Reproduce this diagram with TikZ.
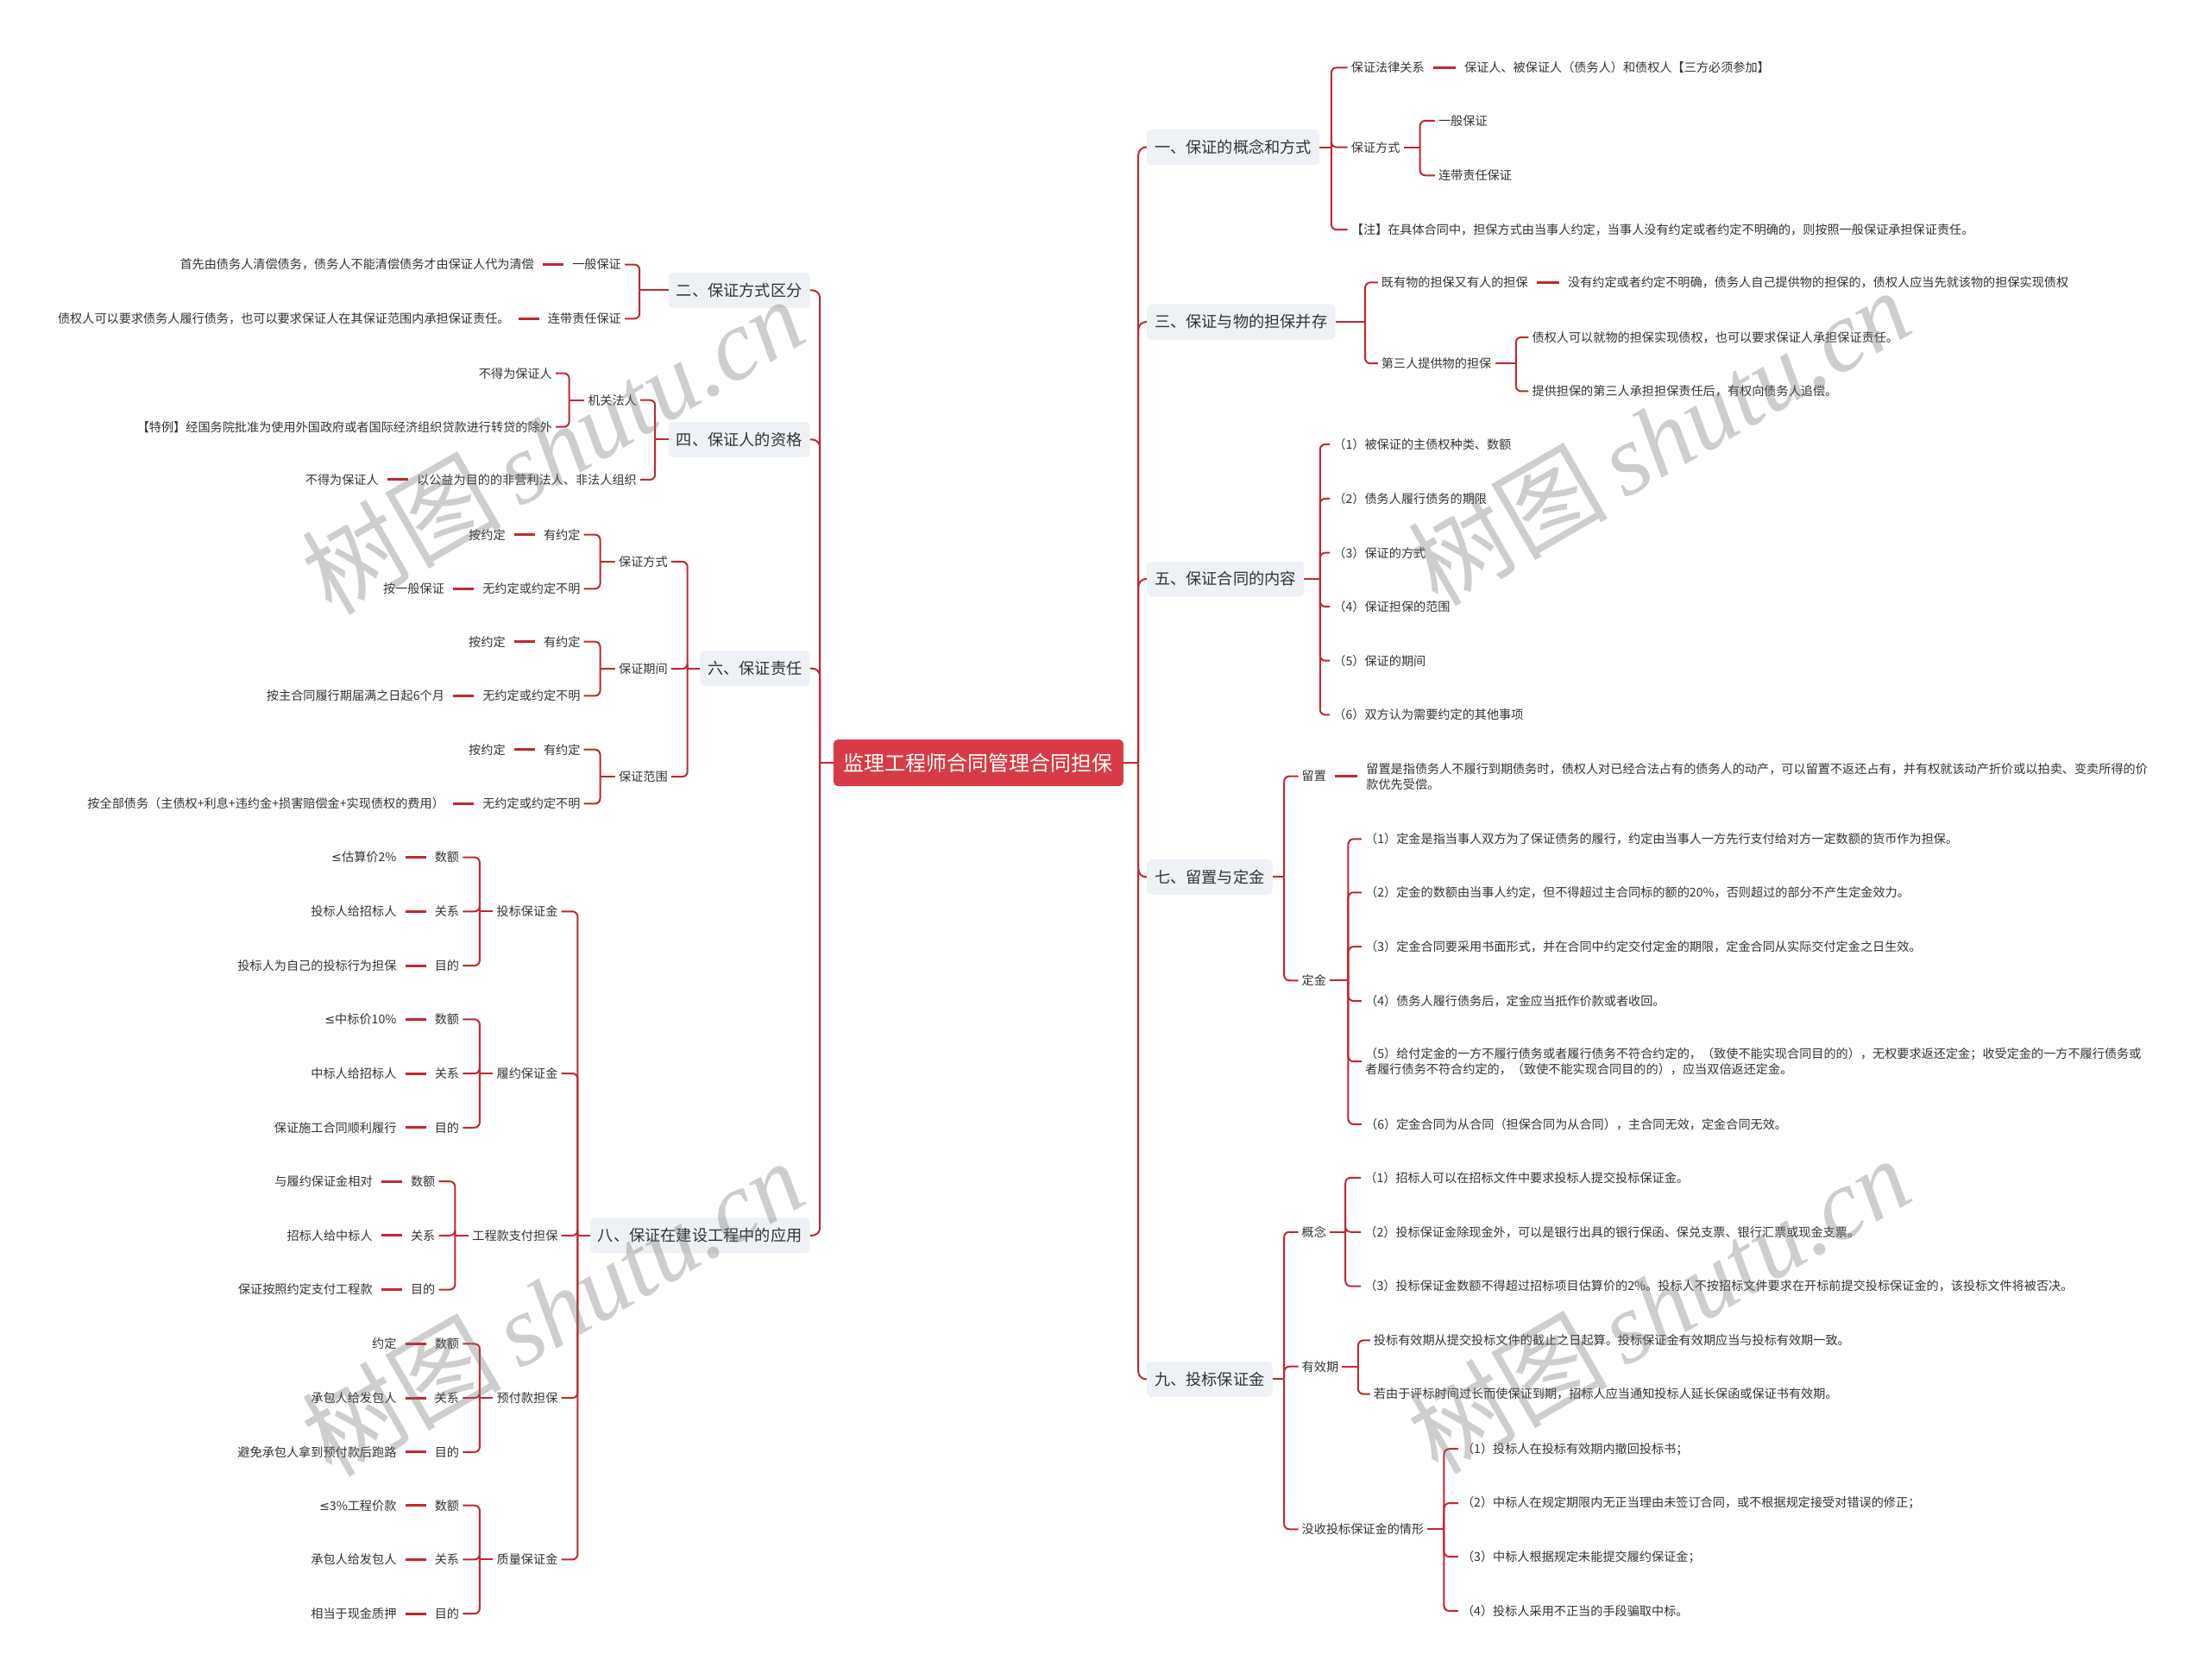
\documentclass[tikz,border=0pt]{standalone}
\usepackage{fontspec}
\setmainfont{Noto Sans CJK SC}
\newfontfamily\markserif{Liberation Serif}
\newfontfamily\mmsym{DejaVu Sans}
\usepackage{xcolor}
\usepackage{tikz}
\usetikzlibrary{positioning}
\definecolor{mmred}{HTML}{D83B45}
\definecolor{mmline}{HTML}{C0282F}
\definecolor{mmtopic}{HTML}{EEF1F5}
\definecolor{mmink}{HTML}{333333}
\newcommand\mmroot{\fontsize{24}{29}\selectfont}
\newcommand\mmtopicf{\fontsize{18.2}{22}\selectfont}
\newcommand\mmleaf{\fontsize{14.15}{18}\selectfont}
\newcommand\mmle{{\mmsym ≤}}
\tikzset{
  rootbox/.style={rectangle,rounded corners=5pt,fill=mmred,text=white,
                  font=\mmroot,minimum height=54pt,inner xsep=12pt},
  topic/.style={rectangle,rounded corners=5pt,fill=mmtopic,text=mmink,
                font=\mmtopicf,minimum height=41pt,inner xsep=9pt},
  leaf/.style={font=\mmleaf,text=mmink,inner xsep=4pt,inner ysep=2pt},
  link/.style={draw=mmline,line width=2pt,rounded corners=6pt},
  trunk/.style={link,rounded corners=9pt},
  tie/.style={draw=mmline,line width=3pt,shorten <=6pt,shorten >=6pt},
  stamp/.style={rotate=30,text=black!55,text opacity=0.35,
                font=\fontsize{116}{120}\selectfont},
}
\begin{document}
\begin{tikzpicture}[x=1.6327pt,y=-1.6327pt]
\fill[white] (0,0) rectangle (1568,1192);
\useasboundingbox (0,0) rectangle (1568,1192);

% centre
\node[rootbox] (root) at (694.5,541.5) {监理工程师合同管理合同担保};
\coordinate (rj) at (808,541.5);
\coordinate (lj) at (582,541.5);
\draw[link] (root.east) -- (rj);
\draw[link] (root.west) -- (lj);

% main topics
\node[topic,anchor=west] (t1) at (814,104.5) {一、保证的概念和方式};
\node[topic,anchor=west] (t3) at (814,228.5) {三、保证与物的担保并存};
\node[topic,anchor=west] (t5) at (814,411) {五、保证合同的内容};
\node[topic,anchor=west] (t7) at (814,622.5) {七、留置与定金};
\node[topic,anchor=west] (t9) at (814,979) {九、投标保证金};
\foreach \t in {t1,t3,t5,t7,t9} \draw[trunk] (rj) |- (\t.west);
\node[topic,anchor=east] (t2) at (575,206) {二、保证方式区分};
\node[topic,anchor=east] (t4) at (575,312) {四、保证人的资格};
\node[topic,anchor=east] (t6) at (575,474.5) {六、保证责任};
\node[topic,anchor=east] (t8) at (575,877) {八、保证在建设工程中的应用};
\foreach \t in {t2,t4,t6,t8} \draw[trunk] (lj) |- (\t.east);

% 一
\node[leaf,anchor=west] (t1a) at (956.5,48) {保证法律关系};
\node[leaf,right=38pt of t1a] (t1a1) {保证人、被保证人（债务人）和债权人【三方必须参加】};
\node[leaf,anchor=west] (t1b) at (956.5,104.5) {保证方式};
\node[leaf,anchor=west] (t1b1) at (1018.5,85.7) {一般保证};
\node[leaf,anchor=west] (t1b2) at (1018.5,124.5) {连带责任保证};
\node[leaf,anchor=west] (t1c) at (956.5,163) {【注】在具体合同中，担保方式由当事人约定，当事人没有约定或者约定不明确的，则按照一般保证承担保证责任。};
\coordinate (b1) at (945,104.5);
\coordinate (b1b) at (1008,104.5);
\draw[link] (t1.east) -- (b1);
\foreach \c in {t1a,t1b,t1c} \draw[link] (b1) |- (\c.west);
\draw[link] (t1b.east) -- (b1b);
\foreach \c in {t1b1,t1b2} \draw[link] (b1b) |- (\c.west);
\draw[tie] (t1a.east) -- (t1a1.west);

% 三
\node[leaf,anchor=west] (t3a) at (978,200.5) {既有物的担保又有人的担保};
\node[leaf,right=38pt of t3a] (t3a1) {没有约定或者约定不明确，债务人自己提供物的担保的，债权人应当先就该物的担保实现债权};
\node[leaf,anchor=west] (t3b) at (978,258) {第三人提供物的担保};
\node[leaf,anchor=west] (t3b1) at (1085,239.4) {债权人可以就物的担保实现债权，也可以要求保证人承担保证责任。};
\node[leaf,anchor=west] (t3b2) at (1085,277.7) {提供担保的第三人承担担保责任后，有权向债务人追偿。};
\coordinate (b3) at (969,228.5);
\coordinate (b3b) at (1076,258);
\draw[link] (t3.east) -- (b3);
\foreach \c in {t3a,t3b} \draw[link] (b3) |- (\c.west);
\draw[link] (t3b.east) -- (b3b);
\foreach \c in {t3b1,t3b2} \draw[link] (b3b) |- (\c.west);
\draw[tie] (t3a.east) -- (t3a1.west);

% 五
\coordinate (b5) at (937,411);
\draw[link] (t5.east) -- (b5);
\foreach \i/\y/\s in {1/315.4/被保证的主债权种类、数额,
                      2/354/债务人履行债务的期限,
                      3/392.4/保证的方式,
                      4/430.6/保证担保的范围,
                      5/469/保证的期间,
                      6/507.4/双方认为需要约定的其他事项}{
  \node[leaf,anchor=west] (t5-\i) at (944,\y) {（\i）\s};
  \draw[link] (b5) |- (t5-\i.west);
}

% 七
\node[leaf,anchor=west] (t7a) at (921.5,551) {留置};
\node[leaf,right=38pt of t7a,align=left] (t7a1) {留置是指债务人不履行到期债务时，债权人对已经合法占有的债务人的动产，可以留置不返还占有，并有权就该动产折价或以拍卖、变卖所得的价\\款优先受偿。};
\node[leaf,anchor=west] (t7b) at (921.5,696) {定金};
\node[leaf,anchor=west] (t7b1) at (966.5,595.6) {（1）定金是指当事人双方为了保证债务的履行，约定由当事人一方先行支付给对方一定数额的货币作为担保。};
\node[leaf,anchor=west] (t7b2) at (966.5,633.5) {（2）定金的数额由当事人约定，但不得超过主合同标的额的20\%，否则超过的部分不产生定金效力。};
\node[leaf,anchor=west] (t7b3) at (966.5,672) {（3）定金合同要采用书面形式，并在合同中约定交付定金的期限，定金合同从实际交付定金之日生效。};
\node[leaf,anchor=west] (t7b4) at (966.5,710.5) {（4）债务人履行债务后，定金应当抵作价款或者收回。};
\node[leaf,anchor=west,align=left] (t7b5) at (966.5,753.5) {（5）给付定金的一方不履行债务或者履行债务不符合约定的，（致使不能实现合同目的的），无权要求返还定金；收受定金的一方不履行债务或\\者履行债务不符合约定的，（致使不能实现合同目的的），应当双倍返还定金。};
\node[leaf,anchor=west] (t7b6) at (966.5,798) {（6）定金合同为从合同（担保合同为从合同），主合同无效，定金合同无效。};
\coordinate (b7) at (911.5,622.5);
\coordinate (b7b) at (957,696);
\draw[link] (t7.east) -- (b7);
\foreach \c in {t7a,t7b} \draw[link] (b7) |- (\c.west);
\draw[tie] (t7a.east) -- (t7a1.west);
\draw[link] (t7b.east) -- (b7b);
\foreach \c in {t7b1,t7b2,t7b3,t7b4,t7b5,t7b6} \draw[link] (b7b) |- (\c.west);

% 九
\node[leaf,anchor=west] (t9a) at (921.5,874.5) {概念};
\node[leaf,anchor=west] (t9a1) at (966,836) {（1）招标人可以在招标文件中要求投标人提交投标保证金。};
\node[leaf,anchor=west] (t9a2) at (966,874.5) {（2）投标保证金除现金外，可以是银行出具的银行保函、保兑支票、银行汇票或现金支票。};
\node[leaf,anchor=west] (t9a3) at (966,913) {（3）投标保证金数额不得超过招标项目估算价的2\%。投标人不按招标文件要求在开标前提交投标保证金的，该投标文件将被否决。};
\node[leaf,anchor=west] (t9b) at (921.5,970) {有效期};
\node[leaf,anchor=west] (t9b1) at (972.5,951.5) {投标有效期从提交投标文件的截止之日起算。投标保证金有效期应当与投标有效期一致。};
\node[leaf,anchor=west] (t9b2) at (972.5,989.5) {若由于评标时间过长而使保证到期，招标人应当通知投标人延长保函或保证书有效期。};
\node[leaf,anchor=west] (t9c) at (921.5,1085.5) {没收投标保证金的情形};
\node[leaf,anchor=west] (t9c1) at (1035,1028.5) {（1）投标人在投标有效期内撤回投标书；};
\node[leaf,anchor=west] (t9c2) at (1035,1067) {（2）中标人在规定期限内无正当理由未签订合同，或不根据规定接受对错误的修正；};
\node[leaf,anchor=west] (t9c3) at (1035,1105) {（3）中标人根据规定未能提交履约保证金；};
\node[leaf,anchor=west] (t9c4) at (1035,1143.5) {（4）投标人采用不正当的手段骗取中标。};
\coordinate (b9) at (911.5,979);
\coordinate (b9a) at (955,874.5);
\coordinate (b9b) at (964,970);
\coordinate (b9c) at (1025,1085.5);
\draw[link] (t9.east) -- (b9);
\foreach \c in {t9a,t9b,t9c} \draw[link] (b9) |- (\c.west);
\draw[link] (t9a.east) -- (b9a);
\foreach \c in {t9a1,t9a2,t9a3} \draw[link] (b9a) |- (\c.west);
\draw[link] (t9b.east) -- (b9b);
\foreach \c in {t9b1,t9b2} \draw[link] (b9b) |- (\c.west);
\draw[link] (t9c.east) -- (b9c);
\foreach \c in {t9c1,t9c2,t9c3,t9c4} \draw[link] (b9c) |- (\c.west);

% 二
\node[leaf,anchor=east] (t2a) at (443.5,187.8) {一般保证};
\node[leaf,left=36pt of t2a] (t2a1) {首先由债务人清偿债务，债务人不能清偿债务才由保证人代为清偿};
\node[leaf,anchor=east] (t2b) at (443.5,226.2) {连带责任保证};
\node[leaf,left=36pt of t2b] (t2b1) {债权人可以要求债务人履行债务，也可以要求保证人在其保证范围内承担保证责任。};
\coordinate (b2) at (454,206);
\draw[link] (t2.west) -- (b2);
\foreach \c in {t2a,t2b} \draw[link] (b2) |- (\c.east);
\draw[tie] (t2a1.east) -- (t2a.west);
\draw[tie] (t2b1.east) -- (t2b.west);

% 四
\node[leaf,anchor=east] (t4a) at (454.5,284) {机关法人};
\node[leaf,anchor=east] (t4a1) at (394.5,265) {不得为保证人};
\node[leaf,anchor=east] (t4a2) at (394.5,303) {【特例】经国务院批准为使用外国政府或者国际经济组织贷款进行转贷的除外};
\node[leaf,anchor=east] (t4b) at (454.5,340.5) {以公益为目的的非营利法人、非法人组织};
\node[leaf,left=36pt of t4b] (t4b1) {不得为保证人};
\coordinate (b4) at (465,312);
\coordinate (b4a) at (404,284);
\draw[link] (t4.west) -- (b4);
\foreach \c in {t4a,t4b} \draw[link] (b4) |- (\c.east);
\draw[link] (t4a.west) -- (b4a);
\foreach \c in {t4a1,t4a2} \draw[link] (b4a) |- (\c.east);
\draw[tie] (t4b1.east) -- (t4b.west);

% 六
\coordinate (b6) at (488,474.5);
\draw[link] (t6.west) -- (b6);
\foreach \n/\s/\y/\z in {t6a/保证方式/398.7/按一般保证,
                         t6b/保证期间/474.7/按主合同履行期届满之日起6个月,
                         t6c/保证范围/551.3/按全部债务（主债权+利息+违约金+损害赔偿金+实现债权的费用）}{
  \node[leaf,anchor=east] (\n) at (476.5,\y) {\s};
  \node[leaf,anchor=east] (\n-1) at (414.5,\y-19.2) {有约定};
  \node[leaf,anchor=east] (\n-2) at (414.5,\y+19.2) {无约定或约定不明};
  \node[leaf,left=36pt of \n-1] (\n-1x) {按约定};
  \node[leaf,left=36pt of \n-2] (\n-2x) {\z};
  \coordinate (\n-b) at (426,\y);
  \draw[link] (b6) |- (\n.east);
  \draw[link] (\n.west) -- (\n-b);
  \draw[link] (\n-b) |- (\n-1.east);
  \draw[link] (\n-b) |- (\n-2.east);
  \draw[tie] (\n-1x.east) -- (\n-1.west);
  \draw[tie] (\n-2x.east) -- (\n-2.west);
}

% 八
\coordinate (b8) at (410,877);
\draw[link] (t8.west) -- (b8);
\foreach \n/\s/\y/\bx/\kx/\va/\vb/\vc in {
    tb/投标保证金/647/340.5/328.5/{\mmle 估算价2\%}/投标人给招标人/投标人为自己的投标行为担保,
    ly/履约保证金/762/340.5/328.5/{\mmle 中标价10\%}/中标人给招标人/保证施工合同顺利履行,
    gc/工程款支付担保/877/323/311.5/与履约保证金相对/招标人给中标人/保证按照约定支付工程款,
    yf/预付款担保/992.3/340.5/328.5/约定/承包人给发包人/避免承包人拿到预付款后跑路,
    zl/质量保证金/1107/340.5/328.5/{\mmle 3\%工程价款}/承包人给发包人/相当于现金质押}{
  \node[leaf,anchor=east] (\n) at (398.5,\y) {\s};
  \node[leaf,anchor=east] (\n-1) at (\kx,\y-38.4) {数额};
  \node[leaf,anchor=east] (\n-2) at (\kx,\y) {关系};
  \node[leaf,anchor=east] (\n-3) at (\kx,\y+38.4) {目的};
  \node[leaf,left=36pt of \n-1] (\n-1x) {\va};
  \node[leaf,left=36pt of \n-2] (\n-2x) {\vb};
  \node[leaf,left=36pt of \n-3] (\n-3x) {\vc};
  \coordinate (\n-b) at (\bx,\y);
  \draw[link] (b8) |- (\n.east);
  \draw[link] (\n.west) -- (\n-b);
  \foreach \i in {1,2,3} {
    \draw[link] (\n-b) |- (\n-\i.east);
    \draw[tie] (\n-\i x.east) -- (\n-\i.west);
  }
}

% watermark
\foreach \p in {(392,316),(1177,310),(392,928),(1177,926)}
  \node[stamp] at \p {树图\,{\markserif\itshape shutu.cn}};
\end{tikzpicture}
\end{document}
